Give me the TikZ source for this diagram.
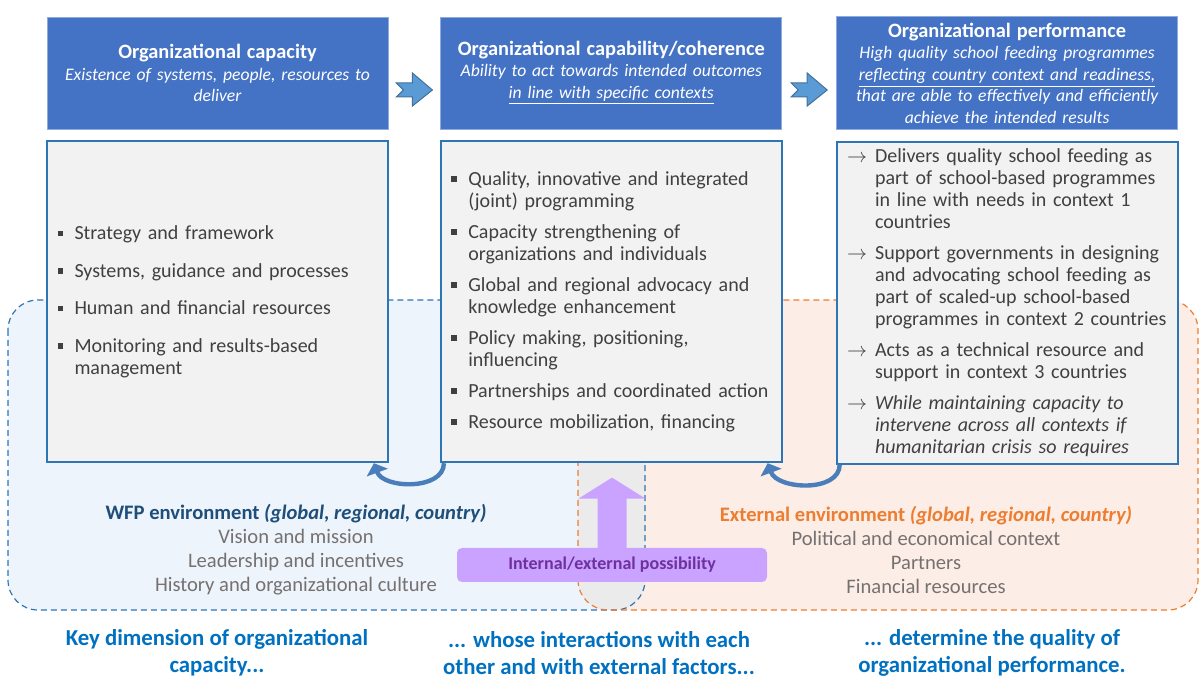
\documentclass[tikz,border=0pt]{standalone}
\usepackage{fontspec}
\setmainfont{Carlito}
\usetikzlibrary{positioning,calc,arrows.meta}

\definecolor{hdblue}{HTML}{4472C4}
\definecolor{hdline}{HTML}{8FAADC}
\definecolor{boxline}{HTML}{2E75B6}
\definecolor{boxfill}{HTML}{F2F2F2}
\definecolor{txtgray}{HTML}{404040}
\definecolor{chevfill}{HTML}{5B9BD5}
\definecolor{chevline}{HTML}{41719C}
\definecolor{curvblue}{HTML}{4A7EBB}
\definecolor{wfpfill}{HTML}{EDF4FB}
\definecolor{wfpline}{HTML}{2E75B6}
\definecolor{extfill}{HTML}{FCEEE6}
\definecolor{extline}{HTML}{ED7D31}
\definecolor{mixfill}{HTML}{EBEBEB}
\definecolor{possfill}{HTML}{C9A3FF}
\definecolor{posstext}{HTML}{7030A0}
\definecolor{wfptext}{HTML}{1F4E79}
\definecolor{envgray}{HTML}{767171}
\definecolor{keyblue}{HTML}{0070C0}

% list markers
\newcommand\bsq{\makebox[8.5pt][l]{\rule[1.8pt]{2.8pt}{2.8pt}}}
\newcommand\bind{\hspace*{8.5pt}}
\newcommand\rarr{\makebox[14pt][l]{$\rightarrow$}}
\newcommand\rind{\hspace*{14pt}}
\newcommand\hdtitle[1]{{\fontsize{10.2}{11}\selectfont\bfseries\upshape #1}}

\tikzset{
  header/.style={draw=hdline, fill=hdblue, text=white, minimum width=170.5pt,
    minimum height=56pt, text width=166pt, inner xsep=2.25pt, align=center,
    font=\fontsize{8.8}{10.75}\selectfont\itshape},
  bodybox/.style={draw=boxline, line width=0.9pt, fill=boxfill, text=txtgray,
    minimum width=170.5pt, minimum height=160.5pt, text width=160pt,
    inner xsep=5.25pt, align=left, font=\fontsize{10}{11}\selectfont},
  region/.style={dash pattern=on 3pt off 2pt, line width=0.6pt, rounded corners=15pt},
  chevron/.pic={\draw[chevline, fill=chevfill, line width=0.5pt]
    (-18,-7) -- (-2,-7) -- (-2,-17) -- (18,0) -- (-2,16) -- (-2,7) -- (-18,7) -- (-11,0) -- cycle;},
  curvarrow/.style={curvblue, line width=2.2pt, -{Triangle[width=11pt,length=5pt]}},
  possbox/.style={fill=possfill, text=posstext, rounded corners=2.5pt, minimum width=155pt,
    minimum height=17pt, font=\fontsize{9}{10}\selectfont\bfseries},
  envtext/.style={text=envgray, align=center, font=\fontsize{10.3}{12}\selectfont},
  keytext/.style={text=keyblue, align=center, inner sep=0.5pt, font=\fontsize{11.4}{13.5}\selectfont\bfseries}
}

\begin{document}
\begin{tikzpicture}[x=0.5pt, y=-0.5pt]
\useasboundingbox (0,0) rectangle (1200,678);

% environments
\fill[wfpfill, region] (8,300) rectangle (645,610);
\fill[extfill, region] (578,300) rectangle (1198,610);
\begin{scope}
\clip[rounded corners=15pt] (8,300) rectangle (645,610);
\fill[mixfill, region] (578,300) rectangle (1198,610);
\end{scope}
\draw[wfpline, region] (8,300) rectangle (645,610);
\draw[extline, region] (578,300) rectangle (1198,610);

\node[header] (hd1) at (217.5,73) {\hdtitle{Organizational capacity}\\
  Existence of systems, people, resources to\\deliver};
\node[header, right=26pt of hd1] (hd2) {\hdtitle{Organizational capability/coherence}\\
  Ability to act towards intended outcomes\\\underline{in line with specific contexts}};
\node[header, right=27pt of hd2] (hd3) {\hdtitle{Organizational performance}\\
  High quality school feeding programmes\\\underline{reflecting country context and readiness,}\\
  that are able to effectively and efficiently\\achieve the intended results};

\node[bodybox, below=5.5pt of hd1] (bod1) {\bsq Strategy and framework\\[7.75pt]
  \bsq Systems, guidance and processes\\[7.75pt]
  \bsq Human and financial resources\\[7.75pt]
  \bsq Monitoring and results-based\\\bind management};
\node[bodybox, below=5.5pt of hd2] (bod2) {\bsq Quality, innovative and integrated\\\bind (joint) programming\\[4.5pt]
  \bsq Capacity strengthening of\\\bind organizations and individuals\\[4.5pt]
  \bsq Global and regional advocacy and\\\bind knowledge enhancement\\[4.5pt]
  \bsq Policy making, positioning,\\\bind influencing\\[4.5pt]
  \bsq Partnerships and coordinated action\\[4.5pt]
  \bsq Resource mobilization, financing};
\node[bodybox, below=5.5pt of hd3] (bod3) {\rarr Delivers quality school feeding as\\\rind part of school-based programmes\\\rind in line with needs in context 1\\\rind countries\\[4.5pt]
  \rarr Support governments in designing\\\rind and advocating school feeding as\\\rind part of scaled-up school-based\\\rind programmes in context 2 countries\\[4.5pt]
  \rarr Acts as a technical resource and\\\rind support in context 3 countries\\[4.5pt]
  \rarr \textit{While maintaining capacity to}\\\rind \textit{intervene across all contexts if}\\\rind \textit{humanitarian crisis so requires}};

\pic at ($(hd1.east)!.5!(hd2.west)+(0,17)$) {chevron};
\pic at ($(hd2.east)!.5!(hd3.west)+(0,17)$) {chevron};

\draw[curvarrow] ([xshift=2pt]bod2.south west) to[out=-90, in=-70] ([xshift=-7.5pt]bod1.south east);
\draw[curvarrow] ([xshift=2pt]bod3.south west) to[out=-90, in=-70] ([xshift=-7.5pt]bod2.south east);

\node[possbox] (poss) at (612,565) {Internal/external possibility};
\fill[possfill] ($(poss.north)+(-14.5,1)$) -- ++(0,-50) -- ++(-19,0) -- ($(poss.north)+(0,-70)$)
  -- ($(poss.north)+(33.5,-49)$) -- ++(-19,0) -- ($(poss.north)+(14.5,1)$) -- cycle;

\node[envtext] (wfp) at (296,550) {{\color{wfptext}\bfseries WFP environment \itshape (global, regional, country)}\\
  Vision and mission\\Leadership and incentives\\History and organizational culture};
\node[envtext] (ext) at (926,550) {{\color{extline}\bfseries External environment \itshape (global, regional, country)}\\
  Political and economical context\\Partners\\Financial resources};

\node[keytext] (key1) at (217,653) {Key dimension of organizational\\capacity...};
\node[keytext] (key2) at (599,653) {... whose interactions with each\\other and with external factors...};
\node[keytext] (key3) at (992,653) {... determine the quality of\\organizational performance.};
\end{tikzpicture}
\end{document}
